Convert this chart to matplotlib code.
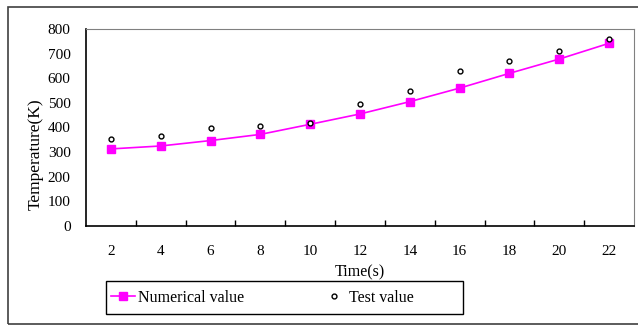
import matplotlib
matplotlib.use('Agg')
import matplotlib.pyplot as plt
from matplotlib.patches import Rectangle

time_s = [2, 4, 6, 8, 10, 12, 14, 16, 18, 20, 22]
numerical = [313, 325, 347, 372, 413, 455, 505, 560, 620, 678, 742]
test = [352, 365, 396, 405, 419, 496, 550, 631, 672, 712, 761]

plt.rcParams['font.family'] = 'Liberation Serif'

fig = plt.figure(figsize=(6.38, 3.25), dpi=100)
ax = fig.add_axes([86 / 638, 99 / 325, 548 / 638, 197 / 325])

# outer chart frame (Excel style)
fig.patches.append(Rectangle((8 / 638, 1 / 325), 640 / 638, 317 / 325,
                             transform=fig.transFigure, fill=False,
                             edgecolor='#404040', linewidth=1.2))
# legend frame
fig.patches.append(Rectangle((106 / 638, 11 / 325), 357 / 638, 33 / 325,
                             transform=fig.transFigure, fill=False,
                             edgecolor='black', linewidth=1))

ax.plot(time_s, numerical, color='#ff00ff', linewidth=1.2, marker='s',
        markersize=5.5, label='Numerical value')
ax.plot(time_s, test, linestyle='none', marker='o', markersize=3.5,
        markerfacecolor='white', markeredgecolor='black', markeredgewidth=1,
        label='Test value')

ax.set_xlim(1, 23)
ax.set_ylim(0, 800)
ax.set_yticks(range(0, 801, 100))
ax.set_xticks(time_s)
ax.set_xticks(range(3, 23, 2), minor=True)
ax.tick_params(axis='x', which='major', length=0, pad=14, labelsize=11)
ax.tick_params(axis='x', which='minor', direction='in', length=4, width=1)
ax.tick_params(axis='y', length=0, pad=11, labelsize=11)

for s in ['top', 'right']:
    ax.spines[s].set_color('#808080')
for s in ['left', 'bottom']:
    ax.spines[s].set_color('black')
    ax.spines[s].set_linewidth(1.2)

ax.set_xlabel('Time(s)', fontsize=11.5, labelpad=4)
ax.set_ylabel('Temperature(K)', fontsize=12.5)
ax.yaxis.set_label_coords(-0.077, 0.365)

leg = fig.legend(loc='center left', ncol=2,
                 bbox_to_anchor=(106 / 638, 27.5 / 325),
                 fontsize=11.5, frameon=False,
                 handlelength=1.5, handletextpad=0.2, columnspacing=4.85,
                 borderaxespad=0, borderpad=0.3)

fig.savefig('out.png', dpi=100)
